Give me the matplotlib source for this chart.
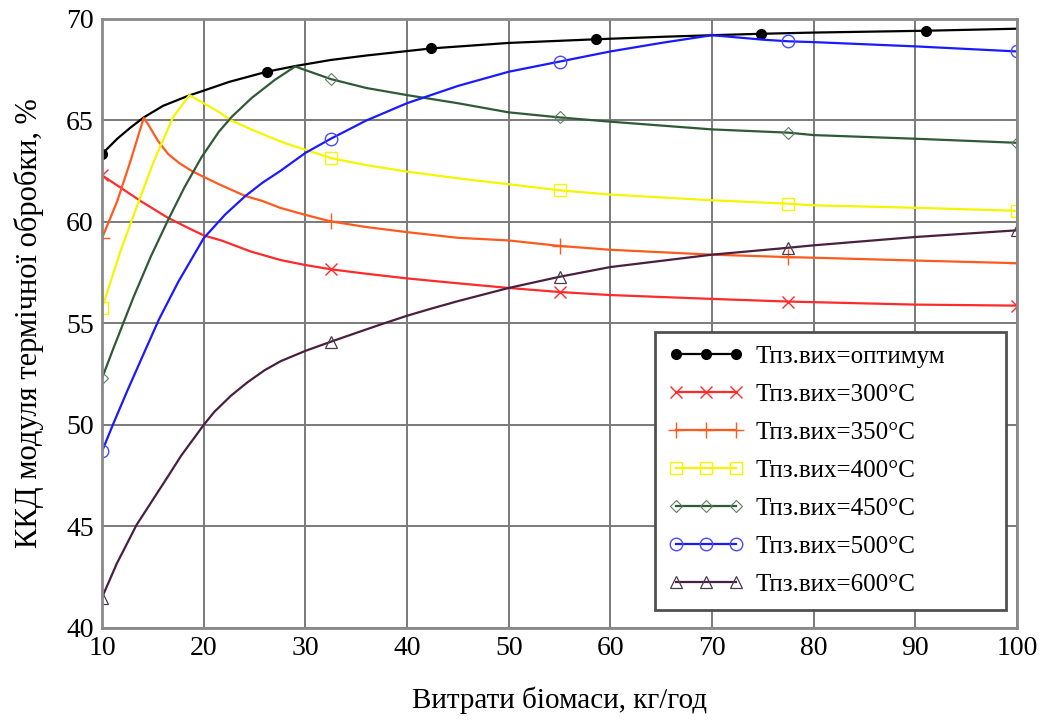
import matplotlib
matplotlib.use('Agg')
import matplotlib.pyplot as plt
import numpy as np

plt.rcParams['font.family'] = ['Liberation Serif', 'DejaVu Serif']

# optimum outlet temperature
opt_x = [10, 11.5, 12.8, 14.1, 16, 18.5, 20, 22.5, 26.2, 29, 32.5, 36, 42.4, 50, 58.6, 65, 70, 74.8, 80, 91, 100]
opt_y = [63.35, 64.1, 64.65, 65.15, 65.72, 66.22, 66.47, 66.9, 67.4, 67.68, 67.98, 68.2, 68.55, 68.82, 69.0,
         69.12, 69.2, 69.27, 69.33, 69.42, 69.52]
opt_marks = [10, 26.2, 42.4, 58.6, 74.8, 91]

t300_x = [10, 11.8, 13.8, 16.5, 18.5, 20, 21.8, 24.6, 27.6, 30, 32.5, 36, 40, 45, 50, 55, 60, 70, 77.5, 80, 90, 100]
t300_y = [62.3, 61.7, 61.03, 60.2, 59.7, 59.34, 59.08, 58.55, 58.12, 57.88, 57.67, 57.45, 57.22, 56.98, 56.75,
          56.55, 56.4, 56.21, 56.08, 56.05, 55.93, 55.88]

t350_x = [10, 11.5, 12.8, 14.1, 14.5, 15.5, 16.5, 17.6, 18.8, 20, 21.5, 24.1, 25.8, 27.5, 30, 32.5, 36, 40, 45,
          50, 55, 60, 70, 77.5, 80, 90, 100]
t350_y = [59.2, 61.03, 63.0, 65.12, 64.84, 64.0, 63.35, 62.9, 62.52, 62.22, 61.86, 61.28, 61.03, 60.7, 60.35,
          60.03, 59.75, 59.5, 59.22, 59.09, 58.82, 58.63, 58.39, 58.27, 58.24, 58.1, 57.97]

t400_x = [10, 11.8, 13.5, 15.1, 17.0, 18.6, 20, 21.5, 22.7, 24.5, 26.3, 28, 30, 32.5, 36, 40, 45, 50, 55, 60,
          70, 77.5, 80, 90, 100]
t400_y = [55.75, 58.54, 60.86, 63.0, 65.17, 66.25, 65.85, 65.42, 65.0, 64.6, 64.22, 63.88, 63.56, 63.15, 62.8,
          62.48, 62.15, 61.86, 61.56, 61.35, 61.07, 60.9, 60.82, 60.7, 60.55]

t450_x = [10, 11.1, 13.1, 14.8, 16.5, 18.1, 19.8, 21.5, 22.8, 24.7, 27, 29, 32.5, 36, 40, 45, 50, 55, 60, 70,
          77.5, 80, 90, 100]
t450_y = [52.3, 53.75, 56.3, 58.3, 60.1, 61.7, 63.2, 64.45, 65.2, 66.1, 67.0, 67.66, 67.04, 66.6, 66.25, 65.85,
          65.4, 65.15, 64.94, 64.56, 64.4, 64.28, 64.1, 63.9]

t500_x = [10, 11.1, 12.5, 14, 15.6, 17.5, 20, 22.1, 24.1, 25.8, 27.5, 30, 32.5, 36, 40, 45, 50, 55, 60, 65, 70,
          75, 77.5, 80, 90, 100]
t500_y = [48.7, 50.05, 51.7, 53.4, 55.2, 57.05, 59.2, 60.36, 61.28, 61.94, 62.5, 63.4, 64.1, 65.0, 65.85, 66.7,
          67.4, 67.9, 68.4, 68.82, 69.2, 68.98, 68.9, 68.86, 68.65, 68.4]

t600_x = [10, 11.45, 13.4, 16.4, 17.8, 20, 21.05, 22.7, 24.3, 26, 27.6, 30, 32.5, 34.1, 37.4, 40, 42.3, 45, 50,
          55, 60, 70, 77.5, 80, 90, 100]
t600_y = [41.5, 43.17, 45.08, 47.4, 48.5, 50.0, 50.65, 51.45, 52.1, 52.7, 53.15, 53.65, 54.1, 54.38, 54.95,
          55.38, 55.72, 56.1, 56.75, 57.3, 57.78, 58.39, 58.73, 58.85, 59.26, 59.59]

temp_marks = [10, 32.5, 55, 77.5, 100]

labels = ['Тпз.вих=оптимум', 'Тпз.вих=300°С', 'Тпз.вих=350°С', 'Тпз.вих=400°С',
          'Тпз.вих=450°С', 'Тпз.вих=500°С', 'Тпз.вих=600°С']


def mark_idx(xs, marks):
    return [xs.index(m) for m in marks]


fig = plt.figure(figsize=(10.55, 7.24), dpi=100)
ax = fig.add_axes([0.0967, 0.1326, 0.8673, 0.8412])

series = [
    (opt_x, opt_y, opt_marks, dict(color='black', marker='o', ms=7, mfc='black', mec='black')),
    (t300_x, t300_y, temp_marks, dict(color='#ff2a2a', marker='x', ms=9, mew=1.0)),
    (t350_x, t350_y, temp_marks, dict(color='#ff5a1e', marker='+', ms=11, mew=1.0)),
    (t400_x, t400_y, temp_marks, dict(color='#f5f500', marker='s', ms=9, mfc='none', mew=1.0)),
    (t450_x, t450_y, temp_marks, dict(color='#2f5a36', marker='D', ms=6, mfc='none', mew=0.8, mec='#5f7f66')),
    (t500_x, t500_y, temp_marks, dict(color='#1a1aff', marker='o', ms=9, mfc='none', mew=1.0, mec='#4a4aff')),
    (t600_x, t600_y, temp_marks, dict(color='#4a2040', marker='^', ms=9, mfc='none', mew=0.9, mec='#4a3a4a')),
]

for (xs, ys, marks, style), lab in zip(series, labels):
    ax.plot(xs, ys, lw=1.6, markevery=mark_idx(xs, marks), label=lab, **style)

ax.set_xlim(10, 100)
ax.set_ylim(40, 70)
ax.set_xticks(np.arange(10, 101, 10))
ax.set_yticks(np.arange(40, 71, 5))
ax.grid(True, color='#7a7a7a', lw=1.4)
ax.set_axisbelow(True)
ax.tick_params(length=0, labelsize=20, pad=6)
for s in ax.spines.values():
    s.set_color('#8a8a8a')
    s.set_linewidth(2)

ax.set_xlabel('Витрати біомаси, кг/год', fontsize=21, labelpad=18)
ax.set_ylabel('ККД модуля термічної обробки, %', fontsize=22, labelpad=16)

leg = ax.legend(loc='lower left', bbox_to_anchor=(0.604, 0.03, 0.384, 0.451), mode='expand',
                borderaxespad=0, numpoints=3, handlelength=3.0, fontsize=18, fancybox=False, framealpha=1,
                edgecolor='#505050', borderpad=0.55, labelspacing=0.62, handletextpad=0.5)
leg.get_frame().set_linewidth(2)

fig.savefig('out.png', dpi=100)
